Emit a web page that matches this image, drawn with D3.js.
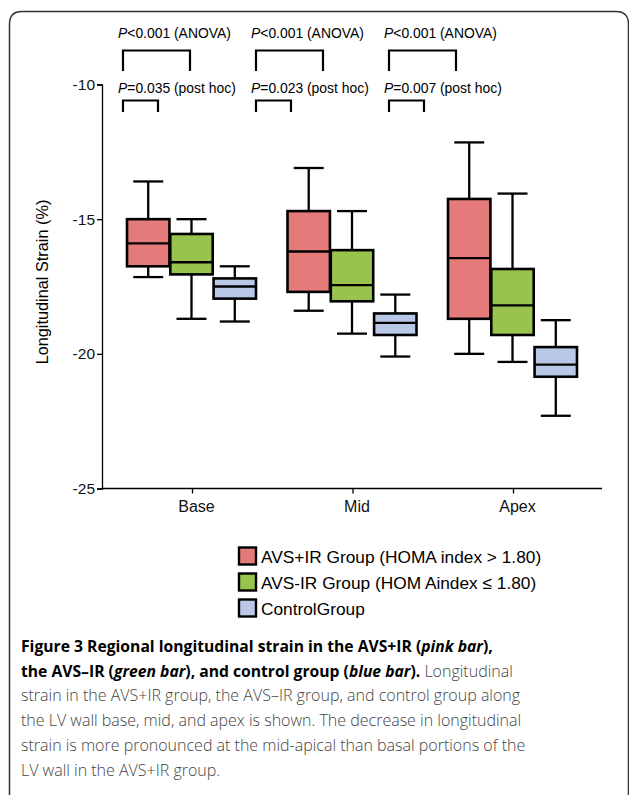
<!DOCTYPE html>
<html>
<head>
<meta charset="utf-8">
<script src="https://cdn.jsdelivr.net/npm/d3@7"></script>
<style>
  body { margin: 0; background: #fff; }
  svg text { font-family: "Liberation Sans", Arial, sans-serif; }
  .caption { font-family: "Open Sans", sans-serif; }
</style>
</head>
<body>
<script>
// regions along the LV wall
const regions = ["Base", "Mid", "Apex"];
const groups = ["AVS+IR", "AVS-IR", "Control"];
const groupColors = ["#e47a7a", "#98c34c", "#b8c8e6"];
const legendLabels = ["AVS+IR Group (HOMA index > 1.80)", "AVS-IR Group (HOM Aindex \u2264 1.80)", "ControlGroup"];

// box stats per group, one value per region (Base, Mid, Apex)
const whiskerTop = [[-13.6, -13.1, -12.15], [-15.0, -14.7, -14.05], [-16.75, -17.8, -18.75]];
const q3 = [[-15.0, -14.7, -14.25], [-15.55, -16.15, -16.85], [-17.2, -18.5, -19.75]];
const median = [[-15.9, -16.2, -16.45], [-16.6, -17.45, -18.2], [-17.5, -18.85, -20.4]];
const q1 = [[-16.75, -17.7, -18.7], [-17.05, -18.05, -19.3], [-17.95, -19.3, -20.85]];
const whiskerBottom = [[-17.15, -18.4, -20.0], [-18.7, -19.25, -20.3], [-18.8, -20.1, -22.3]];

const yTicks = [-10, -15, -20, -25];
const anovaP = ["<0.001", "<0.001", "<0.001"];
const postHocP = ["=0.035", "=0.023", "=0.007"];

const svg = d3.select("body").append("svg")
    .attr("width", 629)
    .attr("height", 795);

// frame
svg.append("path")
    .attr("d", "M9.5,800 V24 Q9.5,11.5 22,11.5 H616 Q628.5,11.5 628.5,24 V800")
    .attr("fill", "none")
    .attr("stroke", "#333")
    .attr("stroke-width", 1.5);

const y = d3.scaleLinear().domain([-25, -10]).range([488.5, 84.5]);
const x = d3.scalePoint().domain(regions).range([192, 513]);
const xg = d3.scaleBand().domain(groups).range([-65, 64]).paddingInner(0.02);

// y axis
const yAxis = svg.append("g")
    .attr("transform", "translate(102,0)")
    .call(d3.axisLeft(y).tickValues(yTicks).tickSize(5).tickPadding(2).tickFormat(d => String(d)));
yAxis.select(".domain").attr("stroke-width", 1.3);
yAxis.selectAll(".tick line").attr("stroke-width", 1.3);
yAxis.selectAll("text").attr("font-size", 15.5).attr("fill", "#111");

svg.append("text")
    .attr("transform", "translate(48,282) rotate(-90)")
    .attr("text-anchor", "middle")
    .attr("font-size", 16.3)
    .text("Longitudinal Strain (%)");

// x axis
const xAxis = svg.append("g")
    .attr("transform", "translate(0,488.5)")
    .call(d3.axisBottom(x).tickSize(5).tickSizeOuter(0).tickPadding(7));
xAxis.select(".domain").attr("d", "M102,0H602").attr("stroke-width", 1.3);
xAxis.selectAll(".tick line").attr("stroke-width", 1.3);
xAxis.selectAll("text").attr("font-size", 16).attr("fill", "#111").attr("dx", 4);

// boxes
const boxes = [];
groups.forEach((g, gi) => {
    regions.forEach((r, ri) => {
        boxes.push({
            region: r, group: g, color: groupColors[gi],
            hi: whiskerTop[gi][ri], q3: q3[gi][ri], med: median[gi][ri],
            q1: q1[gi][ri], lo: whiskerBottom[gi][ri]
        });
    });
});

const bw = xg.bandwidth();
const capW = 30;
const box = svg.selectAll(".box")
    .data(boxes)
    .enter()
    .append("g")
    .attr("class", "box")
    .attr("transform", d => `translate(${x(d.region) + xg(d.group)},0)`)
    .attr("stroke", "#000")
    .attr("stroke-width", 2.3);

box.append("line")
    .attr("x1", bw / 2).attr("x2", bw / 2)
    .attr("y1", d => y(d.hi)).attr("y2", d => y(d.lo));
box.append("line")
    .attr("x1", bw / 2 - capW / 2).attr("x2", bw / 2 + capW / 2)
    .attr("y1", d => y(d.hi)).attr("y2", d => y(d.hi));
box.append("line")
    .attr("x1", bw / 2 - capW / 2).attr("x2", bw / 2 + capW / 2)
    .attr("y1", d => y(d.lo)).attr("y2", d => y(d.lo));
box.append("rect")
    .attr("x", 0)
    .attr("width", bw)
    .attr("y", d => y(d.q3))
    .attr("height", d => y(d.q1) - y(d.q3))
    .attr("fill", d => d.color)
    .attr("stroke-width", 2.6);
box.append("line")
    .attr("x1", 0).attr("x2", bw)
    .attr("y1", d => y(d.med)).attr("y2", d => y(d.med));

// p value annotations
regions.forEach((r, i) => {
    const ax = 118 + i * 133;
    const t1 = svg.append("text").attr("x", ax).attr("y", 38).attr("font-size", 13.9);
    t1.append("tspan").attr("font-style", "italic").text("P");
    t1.append("tspan").text(anovaP[i] + " (ANOVA)");
    svg.append("path")
        .attr("d", `M${ax + 5},71V50.5H${ax + 72}V71`)
        .attr("fill", "none").attr("stroke", "#000").attr("stroke-width", 2.2);

    const t2 = svg.append("text").attr("x", ax).attr("y", 93).attr("font-size", 13.9);
    t2.append("tspan").attr("font-style", "italic").text("P");
    t2.append("tspan").text(postHocP[i] + " (post hoc)");
    svg.append("path")
        .attr("d", `M${ax + 5},112V100.5H${ax + 40}V112`)
        .attr("fill", "none").attr("stroke", "#000").attr("stroke-width", 2.2);
});

// legend
const legend = svg.selectAll(".legend")
    .data(legendLabels)
    .enter()
    .append("g")
    .attr("class", "legend")
    .attr("transform", (d, i) => `translate(239,${547.5 + i * 26})`);
legend.append("rect")
    .attr("width", 17).attr("height", 17)
    .attr("fill", (d, i) => groupColors[i])
    .attr("stroke", "#000").attr("stroke-width", 2.4);
legend.append("text")
    .attr("x", 22).attr("y", 15)
    .attr("font-size", 17.3)
    .text(d => d);

// caption
const capLines = [
    [["b", "Figure 3 Regional longitudinal strain in the AVS+IR ("], ["bi", "pink bar"], ["b", "),"]],
    [["b", "the AVS\u2013IR ("], ["bi", "green bar"], ["b", "), and control group ("], ["bi", "blue bar"], ["b", ")."], ["r", " Longitudinal"]],
    [["r", "strain in the AVS+IR group, the AVS\u2013IR group, and control group along"]],
    [["r", "the LV wall base, mid, and apex is shown. The decrease in longitudinal"]],
    [["r", "strain is more pronounced at the mid-apical than basal portions of the"]],
    [["r", "LV wall in the AVS+IR group."]]
];
const cap = svg.append("text")
    .attr("class", "caption")
    .attr("font-size", 16);
capLines.forEach((line, li) => {
    line.forEach((seg, si) => {
        const ts = cap.append("tspan").text(seg[1]);
        if (si === 0) ts.attr("x", 21).attr("y", 652 + li * 24.7);
        if (seg[0] === "r") ts.attr("fill", "#444").attr("font-weight", 300);
        else ts.attr("fill", "#000").attr("font-weight", 700).attr("font-size", 15.7);
        if (seg[0] === "bi") ts.attr("font-style", "italic");
    });
});
</script>
</body>
</html>
